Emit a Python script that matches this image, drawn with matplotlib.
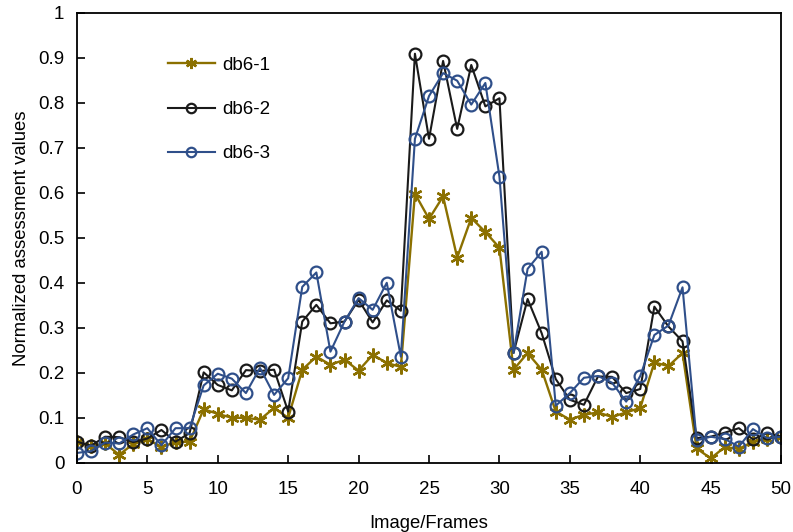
import matplotlib
matplotlib.use("Agg")
import matplotlib.pyplot as plt

plt.rcParams['font.family'] = ['Liberation Sans', 'DejaVu Sans']

# Image/Frames 0..50
frames = list(range(51))

# valores
db6_1 = [0.046, 0.037, 0.043, 0.018, 0.042, 0.053, 0.035, 0.046, 0.047,
         0.119, 0.109, 0.100, 0.100, 0.096, 0.122, 0.100,
         0.207, 0.236, 0.218, 0.229, 0.205, 0.240, 0.222, 0.213,
         0.598, 0.542, 0.592, 0.456, 0.544, 0.513, 0.478,
         0.207, 0.244, 0.207, 0.114, 0.096, 0.107, 0.112, 0.102, 0.112, 0.122,
         0.223, 0.215, 0.244,
         0.032, 0.010, 0.035, 0.031, 0.047, 0.054, 0.058]
db6_2 = [0.047, 0.038, 0.058, 0.057, 0.046, 0.054, 0.073, 0.047, 0.066,
         0.201, 0.173, 0.161, 0.206, 0.204, 0.207, 0.114,
         0.314, 0.351, 0.310, 0.314, 0.362, 0.312, 0.361, 0.338,
         0.909, 0.720, 0.893, 0.742, 0.884, 0.792, 0.810,
         0.244, 0.364, 0.288, 0.186, 0.140, 0.129, 0.192, 0.191, 0.155, 0.164,
         0.347, 0.303, 0.270,
         0.055, 0.058, 0.067, 0.077, 0.052, 0.066, 0.058]
db6_3 = [0.022, 0.026, 0.045, 0.043, 0.063, 0.077, 0.039, 0.077, 0.077,
         0.172, 0.198, 0.187, 0.155, 0.211, 0.151, 0.188,
         0.391, 0.423, 0.247, 0.314, 0.366, 0.340, 0.400, 0.236,
         0.720, 0.815, 0.866, 0.849, 0.796, 0.844, 0.636,
         0.244, 0.431, 0.469, 0.127, 0.155, 0.189, 0.193, 0.178, 0.136, 0.193,
         0.284, 0.305, 0.390,
         0.050, 0.058, 0.053, 0.036, 0.075, 0.055, 0.058]

fig = plt.figure(figsize=(7.93, 5.32), dpi=100)
ax = fig.add_axes([0.097, 0.13, 0.888, 0.846])

ax.plot(frames, db6_1, color='#8B7000', lw=1.7, marker=(6, 2, 0), ms=10,
        mew=1.7, label='db6-1')
ax.plot(frames, db6_2, color='#1a1a1a', lw=1.5, marker='o', ms=8.5,
        mfc='none', mew=1.6, label='db6-2')
ax.plot(frames, db6_3, color='#2F4F8A', lw=1.5, marker='o', ms=8.5,
        mfc='none', mew=1.6, label='db6-3')

ax.set_xlim(0, 50)
ax.set_ylim(0, 1)
ax.set_xticks(range(0, 51, 5))
ax.set_yticks([0, 0.1, 0.2, 0.3, 0.4, 0.5, 0.6, 0.7, 0.8, 0.9, 1])
ax.set_yticklabels(['0', '0.1', '0.2', '0.3', '0.4', '0.5', '0.6', '0.7', '0.8', '0.9', '1'])
ax.tick_params(direction='in', length=6, width=1.2, labelsize=13.5)
ax.tick_params(axis='x', pad=13)
ax.tick_params(axis='y', pad=9)
for s in ax.spines.values():
    s.set_linewidth(1.3)

ax.set_xlabel('Image/Frames', fontsize=13.3, labelpad=12)
ax.set_ylabel('Normalized assessment values', fontsize=13.3, labelpad=6)

ax.legend(loc='upper left', bbox_to_anchor=(0.105, 0.94), frameon=False,
          fontsize=13.5, labelspacing=1.45, handlelength=2.5, handletextpad=0.4,
          markerscale=0.8)

fig.savefig('out.png', dpi=100)
